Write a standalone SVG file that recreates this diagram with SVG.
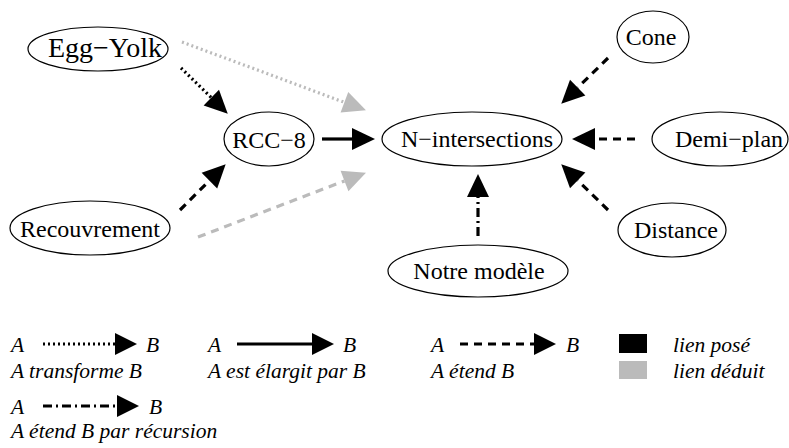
<svg xmlns="http://www.w3.org/2000/svg" width="789" height="448" viewBox="0 0 789 448">
<style>
.node ellipse{fill:#fff;stroke:#000;stroke-width:1.2}
.node text{font-family:'Liberation Serif',Tinos,'Times New Roman',Times,serif;font-size:24px;text-anchor:middle;fill:#000}
.e{fill:none;stroke-width:3.2}
.blk{stroke:#000}
.gry{stroke:#bbb}
.dot{stroke-dasharray:2,3}
.dash{stroke-dasharray:8,6}
.dd{stroke-dasharray:9,4,2,4}
.lg{font-family:'Liberation Serif',Tinos,'Times New Roman',Times,serif;font-style:italic;font-size:21.5px;fill:#000}
</style>
<defs>
<marker id="ab" markerUnits="userSpaceOnUse" markerWidth="24" markerHeight="24" refX="0" refY="12" orient="auto" overflow="visible"><path d="M0,1 L23,12 L0,23 Z" fill="#000"/></marker>
<marker id="ag" markerUnits="userSpaceOnUse" markerWidth="24" markerHeight="24" refX="0" refY="12" orient="auto" overflow="visible"><path d="M0,1 L23,12 L0,23 Z" fill="#bbb"/></marker>
</defs>
<rect width="789" height="448" fill="#fff"/>
<g id="connectors">
<line class="e blk dot" x1="181" y1="68" x2="211.3" y2="97.6" marker-end="url(#ab)"/>
<line class="e gry dot" x1="182" y1="42" x2="344.4" y2="102.3" marker-end="url(#ag)"/>
<line class="e blk" x1="322" y1="139" x2="352" y2="139" marker-end="url(#ab)"/>
<line class="e blk dash" x1="180" y1="210" x2="209.4" y2="180.6" marker-end="url(#ab)"/>
<line class="e gry dash" x1="198" y1="237" x2="344.5" y2="180.9" marker-end="url(#ag)"/>
<line class="e blk dash" x1="608" y1="58" x2="577.7" y2="87.6" marker-end="url(#ab)"/>
<line class="e blk dash" x1="635" y1="139" x2="595" y2="139" marker-end="url(#ab)"/>
<line class="e blk dash" x1="608" y1="210" x2="577.7" y2="180.4" marker-end="url(#ab)"/>
<line class="e blk dd" x1="478" y1="236" x2="478" y2="197" marker-end="url(#ab)"/>
</g>
<g id="egg-yolk" class="node"><ellipse cx="98" cy="49" rx="70" ry="22"/><text x="105" y="57" style="font-size:28px">Egg−Yolk</text></g>
<g id="rcc8" class="node"><ellipse cx="269" cy="139" rx="45" ry="27"/><text x="269" y="148">RCC−8</text></g>
<g id="recouvrement" class="node"><ellipse cx="90" cy="228" rx="80" ry="27"/><text x="90" y="237">Recouvrement</text></g>
<g id="n-intersections" class="node"><ellipse cx="472" cy="139" rx="90" ry="27"/><text x="477" y="147">N−intersections</text></g>
<g id="cone" class="node"><ellipse cx="653" cy="37" rx="36" ry="26"/><text x="651" y="45">Cone</text></g>
<g id="demi-plan" class="node"><ellipse cx="720" cy="139" rx="68" ry="27"/><text x="729" y="147">Demi−plan</text></g>
<g id="distance" class="node"><ellipse cx="672" cy="230" rx="54" ry="27"/><text x="676" y="238">Distance</text></g>
<g id="notre-modele" class="node"><ellipse cx="478" cy="271" rx="90" ry="26"/><text x="479" y="279">Notre modèle</text></g>
<g id="legend">
<text class="lg" x="11" y="352">A</text>
<line class="e blk dot" x1="43" y1="344" x2="115" y2="344" stroke-width="3.5"/>
<path d="M115,333 L137,344 L115,355 Z" fill="#000"/>
<text class="lg" x="146" y="352">B</text>
<text class="lg" x="11" y="378">A transforme B</text>
<text class="lg" x="208" y="352">A</text>
<line class="e blk" x1="237" y1="344" x2="312" y2="344" stroke-width="3.5"/>
<path d="M312,333 L334,344 L312,355 Z" fill="#000"/>
<text class="lg" x="343" y="352">B</text>
<text class="lg" x="208" y="378">A est élargit par B</text>
<text class="lg" x="431" y="352">A</text>
<line class="e blk dash" x1="460" y1="344" x2="534" y2="344" stroke-width="3.5"/>
<path d="M534,333 L556,344 L534,355 Z" fill="#000"/>
<text class="lg" x="566" y="352">B</text>
<text class="lg" x="431" y="378">A étend B</text>
<rect x="619" y="334" width="28" height="19" fill="#000"/>
<rect x="619" y="361" width="28" height="18" fill="#bbb"/>
<text class="lg" x="673" y="352">lien posé</text>
<text class="lg" x="673" y="378">lien déduit</text>
<text class="lg" x="11" y="414">A</text>
<line class="e blk dd" x1="43" y1="406" x2="117" y2="406" stroke-width="3.5"/>
<path d="M117,395 L139,406 L117,417 Z" fill="#000"/>
<text class="lg" x="149" y="414">B</text>
<text class="lg" x="11" y="438">A étend B par récursion</text>
</g>
</svg>
